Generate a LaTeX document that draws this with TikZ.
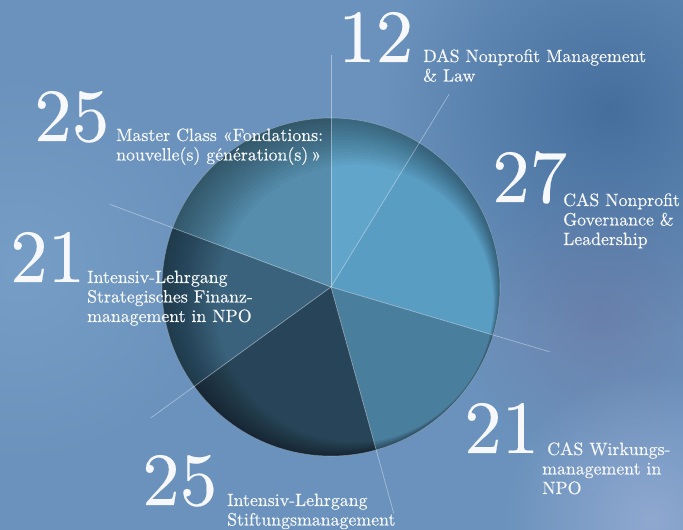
\documentclass[tikz,border=0pt]{standalone}
\usepackage{fontspec}
\usetikzlibrary{fadings}

\newfontfamily\chartfont[FakeBold=0.25]{lmroman10-regular.otf}
\newfontfamily\coursefont[FakeBold=0.4]{lmroman10-regular.otf}

\definecolor{bgBase}{RGB}{106,146,188}
\definecolor{bgDark}{RGB}{64,104,152}
\definecolor{bgViolet}{RGB}{108,112,156}
\definecolor{bgLight}{RGB}{150,172,212}
\definecolor{bgLeft}{RGB}{120,160,200}
\definecolor{sliceDAS}{RGB}{97,165,202}
\definecolor{sliceGov}{RGB}{90,157,195}
\definecolor{sliceWirk}{RGB}{74,126,157}
\definecolor{sliceStift}{RGB}{40,68,88}
\definecolor{sliceFin}{RGB}{58,98,124}
\definecolor{sliceMaster}{RGB}{86,141,172}
\definecolor{txtwhite}{RGB}{246,248,251}

\tikzfading[name=softblob, inner color=transparent!15, outer color=transparent!100]
\tikzfading[name=faintblob, inner color=transparent!55, outer color=transparent!100]

\tikzset{
  bignum/.style={text=txtwhite, inner sep=0pt, anchor=base west,
    font=\chartfont\fontsize{75}{75}\selectfont},
  course/.style={text=txtwhite, inner sep=0pt, anchor=base west, align=left,
    font=\coursefont\fontsize{17.8}{19.5}\selectfont},
  spoke/.style={draw=white, draw opacity=0.4, line width=0.7pt},
}

\begin{document}
\begin{tikzpicture}[x=1pt,y=1pt]
		\useasboundingbox (0,0) rectangle (683,530);
		%Hintergrund
		\fill[bgBase] (0,0) rectangle (683,530);
		\fill[bgLeft, path fading=softblob] (20,260) circle (200);
		\fill[bgDark, path fading=softblob] (610,420) circle (230);
		\fill[bgViolet, path fading=faintblob] (600,210) circle (140);
		\fill[bgLight, path fading=softblob] (650,10) circle (150);
		%Tortenstuecke
		\coordinate (pc) at (331,243);
		\foreach \a/\b/\c in {90/58.5/sliceDAS, 58.5/-16.5/sliceGov, -16.5/-74.5/sliceWirk,
			-74.5/-144/sliceStift, -144/-200.5/sliceFin, -200.5/-270/sliceMaster}
			\fill[\c] (pc) -- ++(\a:169) arc[start angle=\a, end angle=\b, radius=169] -- cycle;
		%Rand
		\foreach \k in {2,4,...,30}
			\fill[black, opacity=0.026, even odd rule] (pc) circle (169)
				([shift={(145:{-0.95*\k})}]pc) circle ({169-\k});
		\draw[white, opacity=0.3, line width=0.6pt] (pc) circle (169);
		%Speichen
		\foreach \a/\l in {90/232, 58.5/226, -16.5/228, -74.5/235, -144/223, 159.5/236}
			\draw[spoke] (pc) -- ++(\a:\l);
		%Zahlen
		\node[bignum] (n12) at (338,468) {12};
		\node[bignum] (n25m) at (34,389) {25};
		\node[bignum] (n27) at (492,328) {27};
		\node[bignum] (n21f) at (10,248) {21};
		\node[bignum] (n21w) at (464,77) {21};
		\node[bignum] (n25s) at (142,25) {25};
		%Lehrgaenge (Basis = letzte Zeile)
		\node[course] (l12) at (423,448.5) {DAS Nonprofit Management\\\& Law};
		\node[course] (l25m) at (116,369.5) {Master Class «Fondations:\\nouvelle(s) génération(s)\,»};
		\node[course] (l27) at (563,285) {CAS Nonprofit\\Governance \&\\Leadership};
		\node[course] (l21f) at (87,208) {Intensiv-Lehrgang\\Strategisches Finanz-\\management in NPO};
		\node[course] (l21w) at (542,36) {\hspace*{5pt}CAS Wirkungs-\\management in\\NPO};
		\node[course] (l25s) at (227,4.5) {Intensiv-Lehrgang\\Stiftungsmanagement};
\end{tikzpicture}
\end{document}
